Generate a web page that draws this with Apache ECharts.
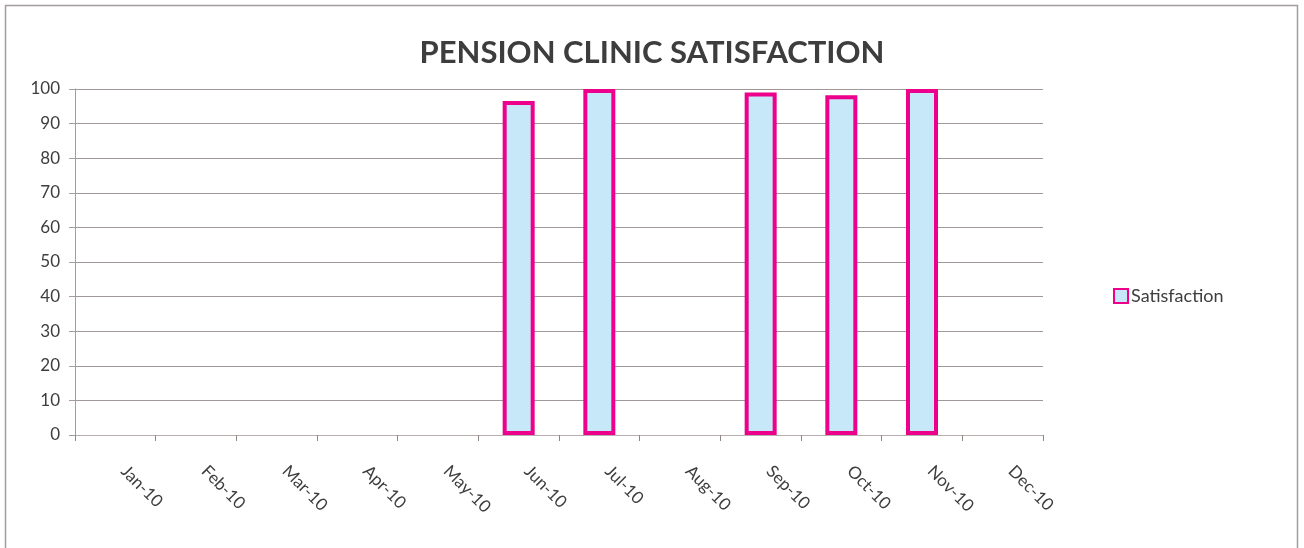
<!DOCTYPE html>
<html>
<head>
<meta charset="utf-8">
<script src="https://cdn.jsdelivr.net/npm/echarts@6/dist/echarts.min.js"></script>
<style>
  html, body { margin: 0; padding: 0; background: #fff; }
  #chart { width: 1304px; height: 548px; }
</style>
</head>
<body>
<div id="chart"></div>
<script>
const months = ['Jan-10', 'Feb-10', 'Mar-10', 'Apr-10', 'May-10', 'Jun-10',
                'Jul-10', 'Aug-10', 'Sep-10', 'Oct-10', 'Nov-10', 'Dec-10']
const satisfaction = [null, null, null, null, null, 96.5, 100, null, 99, 98.2, 100, null]
const yTicks = { min: 0, max: 100, interval: 10 }

const font = 'Lato, "Open Sans", sans-serif'
const myChart = echarts.init(document.getElementById('chart'))

myChart.setOption({
  animation: false,
  textStyle: { fontFamily: font },
  title: {
    text: 'PENSION CLINIC SATISFACTION',
    left: 'center',
    top: 32,
    textStyle: { fontSize: 31, fontWeight: 'bold', color: '#3d3d3d', fontFamily: font }
  },
  graphic: [
    {
      type: 'rect',
      shape: { x: 5.5, y: 5.5, width: 1292, height: 600 },
      style: { fill: 'none', stroke: '#a59c9c', lineWidth: 1.5 },
      silent: true
    }
  ],
  legend: {
    data: ['Satisfaction'],
    orient: 'vertical',
    left: 1113,
    top: 287,
    padding: 0,
    itemWidth: 14,
    itemHeight: 14,
    icon: 'rect',
    textStyle: { fontSize: 18, color: '#3d3d3d', padding: [0, 0, 0, -2] }
  },
  grid: { left: 75, right: 261, top: 89, bottom: 113 },
  xAxis: {
    type: 'category',
    data: months,
    boundaryGap: true,
    axisLine: { lineStyle: { color: '#b8aeae', width: 1 } },
    axisTick: { show: true, length: 6, lineStyle: { color: '#8f8585' } },
    axisLabel: {
      rotate: -45, margin: 25, fontSize: 17, color: '#3d3d3d', interval: 0,
      padding: [0, 0, 0, 12]
    },
    splitLine: { show: false }
  },
  yAxis: {
    type: 'value',
    min: yTicks.min,
    max: yTicks.max,
    interval: yTicks.interval,
    axisLine: { show: true, lineStyle: { color: '#a59c9c' } },
    axisTick: { show: true, length: 6, lineStyle: { color: '#a59c9c' } },
    axisLabel: { fontSize: 17, color: '#3d3d3d', margin: 15 },
    splitLine: { lineStyle: { color: '#a09898', width: 1 } }
  },
  series: [
    {
      name: 'Satisfaction',
      type: 'bar',
      data: satisfaction,
      barWidth: 32,
      itemStyle: {
        color: '#c6e8f8',
        borderColor: '#ec008c',
        borderWidth: 4
      }
    }
  ]
})
</script>
</body>
</html>
